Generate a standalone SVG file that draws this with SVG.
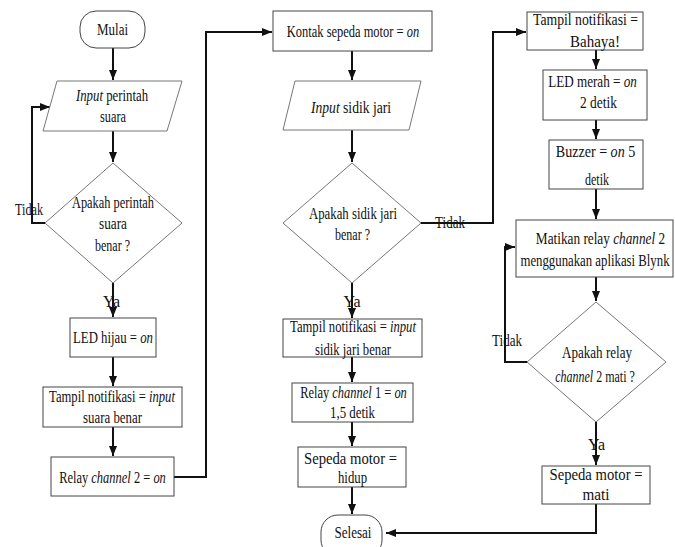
<svg xmlns="http://www.w3.org/2000/svg" width="675" height="547" viewBox="0 0 675 547">
<style>
.b{fill:#fff;stroke:#444;stroke-width:1}
.d{fill:#fff;stroke:#777;stroke-width:1}
.t{font-family:"Liberation Serif","Times New Roman",serif;font-size:16px;fill:#111;text-anchor:middle}
.i{font-style:italic}
.c{fill:none;stroke:#111;stroke-width:2}
</style>
<defs>
<marker id="ah" markerUnits="userSpaceOnUse" markerWidth="10" markerHeight="10" viewBox="0 0 10 10" refX="10" refY="5" orient="auto">
<path d="M0,1 L10,5 L0,9 Z" fill="#111"/>
</marker>
</defs>
<rect width="675" height="547" fill="#fff"/>
<g id="connectors">
<path class="c" d="M113,48 V80" marker-end="url(#ah)"/>
<path class="c" d="M113,131 V162" marker-end="url(#ah)"/>
<path class="c" d="M45,223 H32 V107 H50" marker-end="url(#ah)"/>
<path class="c" d="M113,283 V317" marker-end="url(#ah)"/>
<path class="c" d="M113,357 V386" marker-end="url(#ah)"/>
<path class="c" d="M113,427 V456" marker-end="url(#ah)"/>
<path class="c" d="M174,477 H206 V32 H272" marker-end="url(#ah)"/>
<path class="c" d="M352,51 V80" marker-end="url(#ah)"/>
<path class="c" d="M352,130 V162" marker-end="url(#ah)"/>
<path class="c" d="M352,283 V318" marker-end="url(#ah)"/>
<path class="c" d="M352,357 V382" marker-end="url(#ah)"/>
<path class="c" d="M352,422 V446" marker-end="url(#ah)"/>
<path class="c" d="M352,487 V514" marker-end="url(#ah)"/>
<path class="c" d="M421,223 H493 V32 H526" marker-end="url(#ah)"/>
<path class="c" d="M596,50 V69" marker-end="url(#ah)"/>
<path class="c" d="M596,120 V139" marker-end="url(#ah)"/>
<path class="c" d="M596,189 V219" marker-end="url(#ah)"/>
<path class="c" d="M596,277 V301" marker-end="url(#ah)"/>
<path class="c" d="M527,362 H505 V247 H515" marker-end="url(#ah)"/>
<path class="c" d="M596,422 V465" marker-end="url(#ah)"/>
<path class="c" d="M596,504 V533 H386" marker-end="url(#ah)"/>
<text class="t" x="29" y="215" textLength="28" lengthAdjust="spacingAndGlyphs">Tidak</text>
<text class="t" x="111.5" y="307" textLength="17" lengthAdjust="spacingAndGlyphs">Ya</text>
<text class="t" x="450" y="228" textLength="30" lengthAdjust="spacingAndGlyphs">Tidak</text>
<text class="t" x="352" y="307" textLength="17" lengthAdjust="spacingAndGlyphs">Ya</text>
<text class="t" x="507" y="346" textLength="30" lengthAdjust="spacingAndGlyphs">Tidak</text>
<text class="t" x="596.5" y="450" textLength="17" lengthAdjust="spacingAndGlyphs">Ya</text>
</g>
<g id="mulai">
<rect class="b" x="80" y="11" width="65" height="37" rx="16"/>
<text class="t" x="112.5" y="35" textLength="31" lengthAdjust="spacingAndGlyphs">Mulai</text>
</g>
<g id="input-suara">
<polygon class="d" points="57,81 182,81 167,131 43,131"/>
<text class="t" transform="translate(112,101) scale(0.8,1)"><tspan class="i">Input</tspan> perintah</text>
<text class="t" x="113" y="122" textLength="26" lengthAdjust="spacingAndGlyphs">suara</text>
</g>
<g id="cek-suara">
<polygon class="d" points="113,163 182,223 113,283 45,223"/>
<text class="t" x="113" y="208" textLength="82" lengthAdjust="spacingAndGlyphs">Apakah perintah</text>
<text class="t" x="113" y="229" textLength="28" lengthAdjust="spacingAndGlyphs">suara</text>
<text class="t" x="112.5" y="251" textLength="35" lengthAdjust="spacingAndGlyphs">benar ?</text>
</g>
<g id="led-hijau">
<rect class="b" x="70" y="318" width="86" height="39"/>
<text class="t" transform="translate(113,343) scale(0.8,1)">LED hijau = <tspan class="i">on</tspan></text>
</g>
<g id="notif-suara">
<rect class="b" x="43" y="387" width="139" height="40"/>
<text class="t" transform="translate(112,402) scale(0.79,1)">Tampil notifikasi = <tspan class="i">input</tspan></text>
<text class="t" x="112.5" y="423" textLength="59" lengthAdjust="spacingAndGlyphs">suara benar</text>
</g>
<g id="relay2-on">
<rect class="b" x="51" y="457" width="123" height="39"/>
<text class="t" transform="translate(112.5,483) scale(0.78,1)">Relay <tspan class="i">channel</tspan> 2 = <tspan class="i">on</tspan></text>
</g>
<g id="kontak">
<rect class="b" x="273" y="11" width="159" height="40"/>
<text class="t" transform="translate(353,37) scale(0.78,1)">Kontak sepeda motor  = <tspan class="i">on</tspan></text>
</g>
<g id="input-sidik">
<polygon class="d" points="295,81 421,81 409,130 283,130"/>
<text class="t" transform="translate(351,113) scale(0.85,1)"><tspan class="i">Input</tspan> sidik jari</text>
</g>
<g id="cek-sidik">
<polygon class="d" points="352,163 421,223 352,283 283,223"/>
<text class="t" x="353" y="219" textLength="88" lengthAdjust="spacingAndGlyphs">Apakah sidik jari</text>
<text class="t" x="352.5" y="240" textLength="35" lengthAdjust="spacingAndGlyphs">benar ?</text>
</g>
<g id="notif-sidik">
<rect class="b" x="283" y="319" width="139" height="38"/>
<text class="t" transform="translate(353,332) scale(0.79,1)">Tampil notifikasi = <tspan class="i">input</tspan></text>
<text class="t" x="353" y="355" textLength="76" lengthAdjust="spacingAndGlyphs">sidik jari benar</text>
</g>
<g id="relay1-on">
<rect class="b" x="292" y="383" width="121" height="39"/>
<text class="t" transform="translate(353.5,398) scale(0.78,1)">Relay <tspan class="i">channel</tspan> 1 = <tspan class="i">on</tspan></text>
<text class="t" x="352.5" y="418" textLength="45" lengthAdjust="spacingAndGlyphs">1,5 detik</text>
</g>
<g id="motor-hidup">
<rect class="b" x="298" y="447" width="108" height="40"/>
<text class="t" x="350.5" y="464" textLength="93" lengthAdjust="spacingAndGlyphs">Sepeda motor =</text>
<text class="t" x="352.5" y="483" textLength="29" lengthAdjust="spacingAndGlyphs">hidup</text>
</g>
<g id="selesai">
<rect class="b" x="321" y="515" width="61" height="42" rx="17"/>
<text class="t" x="353" y="538" textLength="37" lengthAdjust="spacingAndGlyphs">Selesai</text>
</g>
<g id="notif-bahaya">
<rect class="b" x="527" y="12" width="116" height="38"/>
<text class="t" x="585.5" y="25" textLength="105" lengthAdjust="spacingAndGlyphs">Tampil notifikasi =</text>
<text class="t" x="595" y="47" textLength="50" lengthAdjust="spacingAndGlyphs">Bahaya!</text>
</g>
<g id="led-merah">
<rect class="b" x="543" y="70" width="104" height="50"/>
<text class="t" transform="translate(592.5,87) scale(0.82,1)">LED merah = <tspan class="i">on</tspan></text>
<text class="t" x="598.5" y="108" textLength="37" lengthAdjust="spacingAndGlyphs">2 detik</text>
</g>
<g id="buzzer">
<rect class="b" x="549" y="140" width="94" height="49"/>
<text class="t" transform="translate(595.5,157) scale(0.88,1)">Buzzer = <tspan class="i">on</tspan> 5</text>
<text class="t" x="597" y="185" textLength="24" lengthAdjust="spacingAndGlyphs">detik</text>
</g>
<g id="matikan-relay">
<rect class="b" x="516" y="220" width="157" height="57"/>
<text class="t" transform="translate(600.5,244) scale(0.83,1)">Matikan relay <tspan class="i">channel</tspan> 2</text>
<text class="t" transform="translate(595,266) scale(0.8,1)">menggunakan aplikasi Blynk</text>
</g>
<g id="cek-relay">
<polygon class="d" points="596,302 666,362 596,422 527,362"/>
<text class="t" x="597" y="358" textLength="70" lengthAdjust="spacingAndGlyphs">Apakah  relay</text>
<text class="t" transform="translate(595,382) scale(0.75,1)"><tspan class="i">channel</tspan> 2 mati ?</text>
</g>
<g id="motor-mati">
<rect class="b" x="542" y="466" width="108" height="38"/>
<text class="t" x="596" y="480" textLength="93" lengthAdjust="spacingAndGlyphs">Sepeda motor =</text>
<text class="t" x="596" y="500" textLength="27" lengthAdjust="spacingAndGlyphs">mati</text>
</g>
</svg>
